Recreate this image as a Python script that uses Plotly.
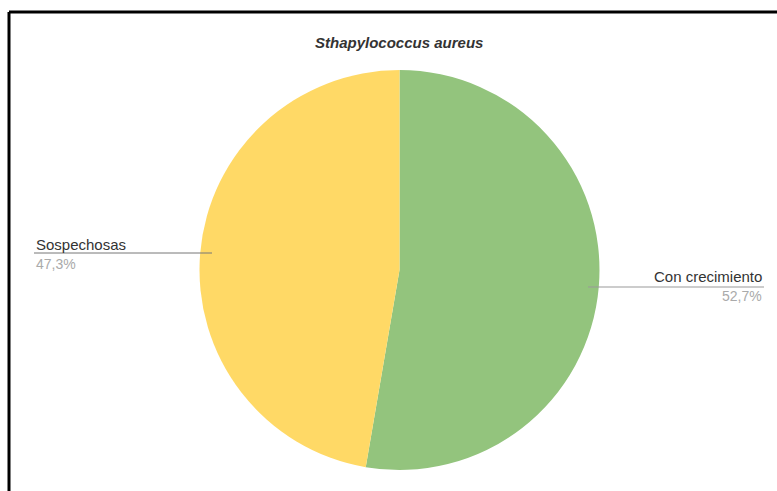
import plotly.graph_objects as go

labels = ["Con crecimiento", "Sospechosas"]
values = [52.7, 47.3]
colors = ["#93c47d", "#ffd966"]
title_text = "<b><i>Sthapylococcus aureus</i></b>"

W, H = 777, 491

def px(x):
    return x / W

def py(y):
    return 1 - y / H

cx, cy, r = 399.5, 270, 200

fig = go.Figure(go.Pie(
    labels=labels, values=values, sort=False, direction="clockwise", rotation=0,
    marker=dict(colors=colors, line=dict(width=0)),
    textinfo="none", hoverinfo="label+percent", showlegend=False,
    domain=dict(x=[px(cx - r), px(cx + r)], y=[py(cy + r), py(cy - r)]),
))

total = sum(values)
pcts = [f"{v / total * 100:.1f}".replace(".", ",") + "%" for v in values]

font = "Liberation Sans, Arial, sans-serif"
ann = []
shapes = []
# right label (Con crecimiento)
ann.append(dict(x=px(764), y=py(276), xref="paper", yref="paper", text=labels[0],
                showarrow=False, xanchor="right", yanchor="middle",
                font=dict(family=font, size=15, color="#333333")))
ann.append(dict(x=px(764), y=py(296), xref="paper", yref="paper", text=pcts[0],
                showarrow=False, xanchor="right", yanchor="middle",
                font=dict(family=font, size=14, color="#aaaaaa")))
shapes.append(dict(type="line", xref="paper", yref="paper", x0=px(588), x1=px(764),
                   y0=py(287), y1=py(287), line=dict(color="#999999", width=1)))
# left label (Sospechosas)
ann.append(dict(x=px(34), y=py(244), xref="paper", yref="paper", text=labels[1],
                showarrow=False, xanchor="left", yanchor="middle",
                font=dict(family=font, size=15, color="#333333")))
ann.append(dict(x=px(34), y=py(264), xref="paper", yref="paper", text=pcts[1],
                showarrow=False, xanchor="left", yanchor="middle",
                font=dict(family=font, size=14, color="#aaaaaa")))
shapes.append(dict(type="line", xref="paper", yref="paper", x0=px(34), x1=px(212),
                   y0=py(253), y1=py(253), line=dict(color="#777777", width=1)))
# title
ann.append(dict(x=px(399), y=py(43), xref="paper", yref="paper", text=title_text,
                showarrow=False, xanchor="center", yanchor="middle",
                font=dict(family=font, size=15, color="#333333")))
# frame
shapes.append(dict(type="line", xref="paper", yref="paper", x0=px(9), x1=1.0,
                   y0=py(12), y1=py(12), line=dict(color="black", width=3)))
shapes.append(dict(type="line", xref="paper", yref="paper", x0=px(9), x1=px(9),
                   y0=py(12), y1=0.0, line=dict(color="black", width=3)))

fig.update_layout(
    width=W, height=H, margin=dict(l=0, r=0, t=0, b=0),
    paper_bgcolor="white", plot_bgcolor="white",
    annotations=ann, shapes=shapes,
)

fig.write_html(
    "out.html",
    config={"displayModeBar": False},
    post_script="document.body.style.margin='0';document.body.style.overflow='hidden';",
)
